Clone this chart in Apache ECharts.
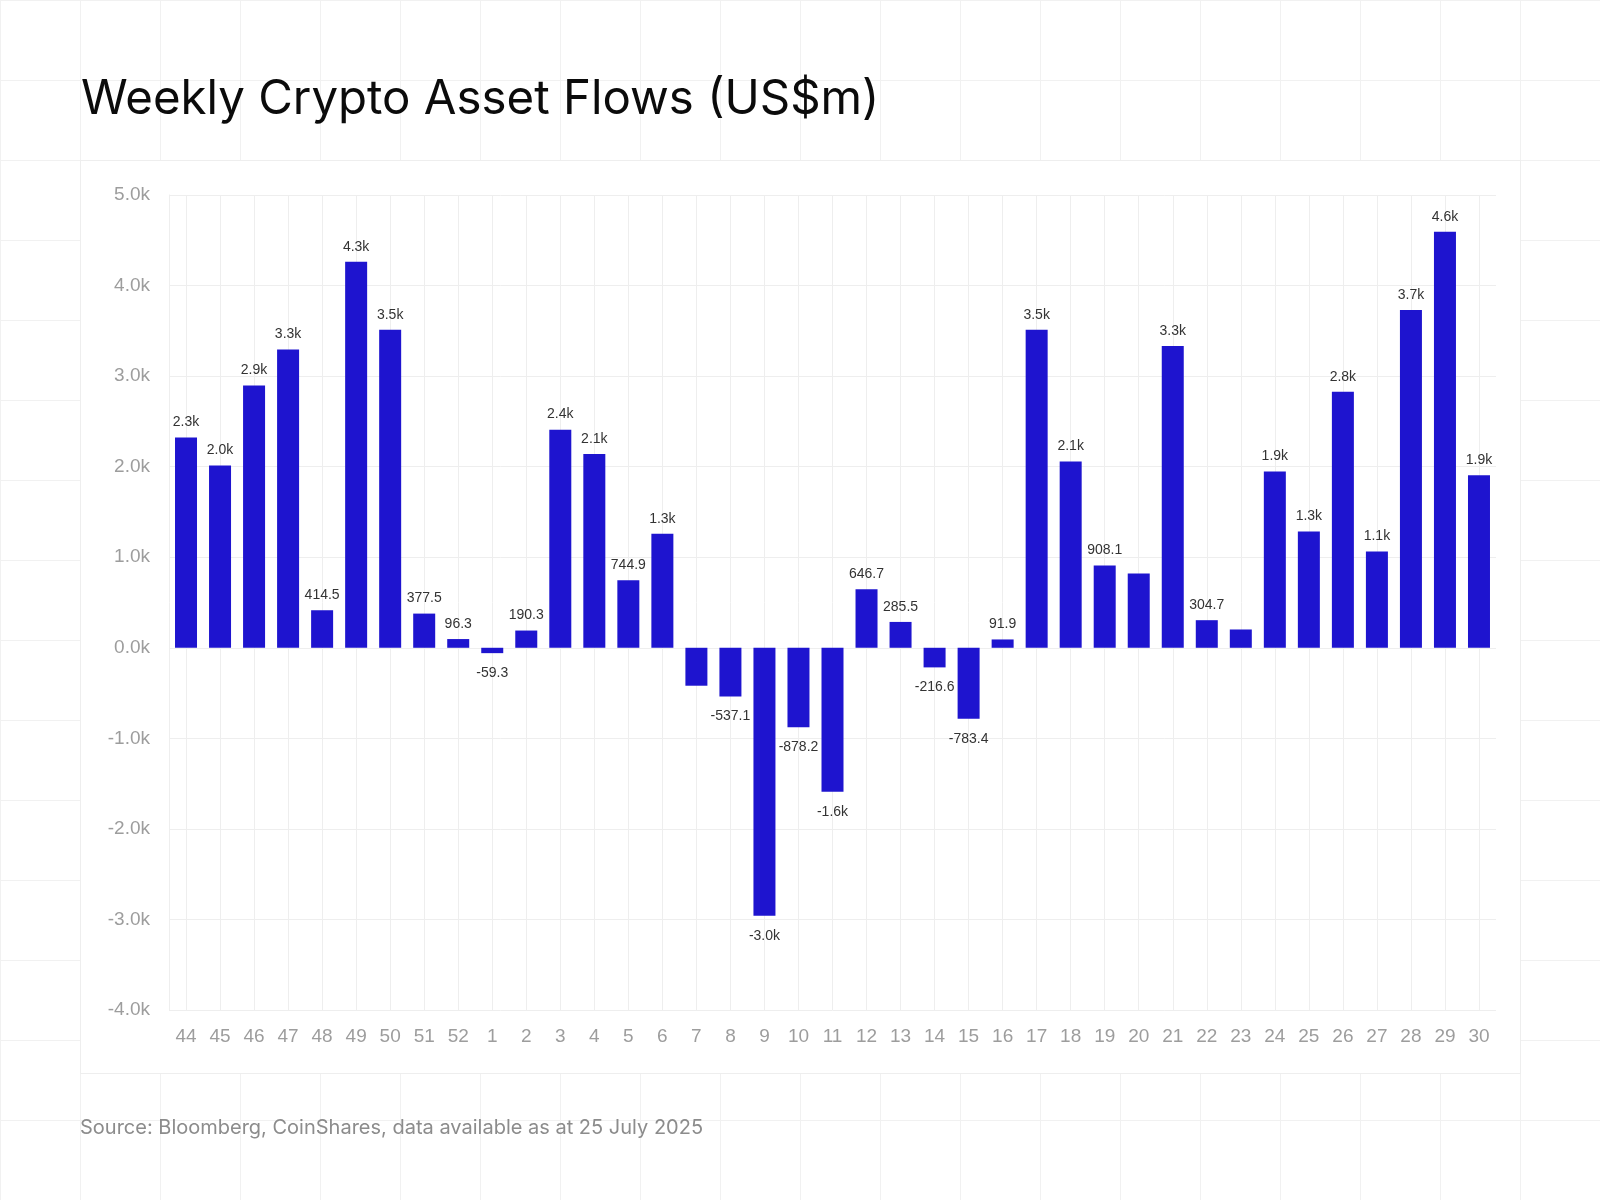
<!DOCTYPE html>
<html>
<head>
<meta charset="utf-8">
<title>Weekly Crypto Asset Flows</title>
<script src="https://cdn.jsdelivr.net/npm/echarts@6.0.0/dist/echarts.min.js"></script>
<style>
  html, body { margin: 0; padding: 0; background: #fff; }
  #page {
    position: relative;
    width: 1600px;
    height: 1200px;
    background-color: #fff;
    background-image:
      linear-gradient(to right, #f1f1f1 1px, transparent 1px),
      linear-gradient(to bottom, #f1f1f1 1px, transparent 1px);
    background-size: 80px 80px;
  }
  #panel {
    position: absolute;
    left: 80px;
    top: 160px;
    width: 1441px;
    height: 914px;
    box-sizing: border-box;
    background: #fff;
    border: 1px solid #eeeeee;
  }
  #chart { position: absolute; left: 0; top: 0; width: 1600px; height: 1200px; }
</style>
</head>
<body>
<div id="page">
  <div id="panel"></div>
  <div id="chart"></div>
</div>
<script>
// week numbers (2024 wk44 -> 2025 wk30)
const weeks = ['44', '45', '46', '47', '48', '49', '50', '51', '52',
  '1', '2', '3', '4', '5', '6', '7', '8', '9', '10', '11', '12', '13', '14', '15',
  '16', '17', '18', '19', '20', '21', '22', '23', '24', '25', '26', '27', '28', '29', '30']

// weekly flows, US$m
const flows = [2321, 2012, 2895, 3293, 414.5, 4264, 3513, 377.5, 96.3,
  -59.3, 190.3, 2409, 2139, 744.9, 1260, -419, -537.1, -2958, -878.2, -1589, 646.7, 285.5, -216.6, -783.4,
  91.9, 3513, 2058, 908.1, 820, 3333, 304.7, 202, 1948, 1284, 2827, 1063, 3729, 4595, 1904]

// weeks whose value label is not printed in the source (crowded by the neighbour)
const unlabelledWeeks = ['7', '20', '23']

// y axis range / step
const yMin = -4000
const yMax = 5000
const yStep = 1000

const fmtK = (v) => Math.abs(v) >= 1000 ? (v / 1000).toFixed(1) + 'k' : v.toFixed(1)

const chart = echarts.init(document.getElementById('chart'), null, {renderer: 'canvas'})

chart.setOption({
  backgroundColor: 'transparent',
  animation: false,
  title: [
    {
      text: 'Weekly Crypto Asset Flows (US$m)',
      left: 81,
      top: 76,
      padding: 0,
      textStyle: {
        fontFamily: 'Inter',
        fontSize: 47.4,
        fontWeight: 400,
        color: '#0b0b0b',
      },
    },
    {
      text: 'Source: Bloomberg, CoinShares, data available as at 25 July 2025',
      left: 80,
      top: 1118,
      padding: 0,
      textStyle: {
        fontFamily: 'Inter',
        fontSize: 20,
        fontWeight: 400,
        color: '#8c8c8c',
      },
    },
  ],
  grid: {
    left: 169,
    right: 104,
    top: 195,
    bottom: 190,
  },
  xAxis: {
    type: 'category',
    data: weeks,
    axisLine: {show: false},
    axisTick: {show: false},
    axisLabel: {
      color: '#9d9d9d',
      fontFamily: 'Liberation Sans',
      fontSize: 19,
      margin: 17,
    },
    splitLine: {
      show: true,
      alignWithLabel: true, // lines through the bar centres
      lineStyle: {color: '#eeeeee', width: 1},
    },
  },
  yAxis: {
    type: 'value',
    min: yMin,
    max: yMax,
    interval: yStep,
    axisLine: {show: true, lineStyle: {color: '#eeeeee', width: 1}},
    axisTick: {show: false},
    axisLabel: {
      color: '#9d9d9d',
      fontFamily: 'Liberation Sans',
      fontSize: 19,
      margin: 19,
      formatter: (v) => (v / 1000).toFixed(1) + 'k',
    },
    splitLine: {lineStyle: {color: '#eeeeee', width: 1}},
  },
  series: [
    {
      name: 'Flows',
      type: 'bar',
      barWidth: 22,
      itemStyle: {color: '#1e14cf'},
      label: {
        show: true,
        position: 'outside',
        color: '#333333',
        fontFamily: 'Liberation Sans',
        fontSize: 14,
        formatter: (p) => fmtK(p.value),
      },
      data: flows.map((v, i) => ({
        value: v,
        label: {
          show: !unlabelledWeeks.includes(weeks[i]),
          distance: v < 0 ? 13 : 8,
        },
      })),
    },
  ],
})
</script>
</body>
</html>
